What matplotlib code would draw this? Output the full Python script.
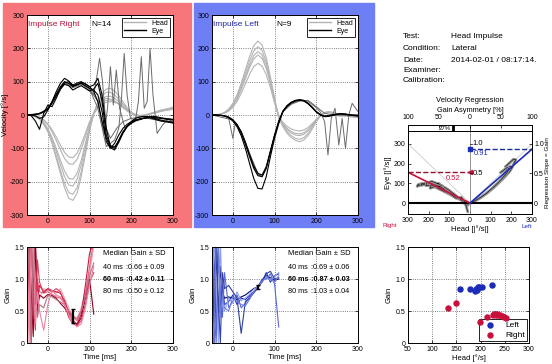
import matplotlib.pyplot as plt
import numpy as np
from matplotlib.patches import Rectangle
from matplotlib.lines import Line2D

plt.rcParams['font.family'] = ['Liberation Sans', 'DejaVu Sans']
plt.rcParams['font.size'] = 5.5
plt.rcParams['axes.linewidth'] = 0.7
plt.rcParams['axes.unicode_minus'] = False

##########################################################
# Velocity traces, sampled every 10 ms from -50 to 300 ms
t_vel = list(range(-50, 301, 10))

# Impulse right: head (gray) and eye (black) velocity [deg/s]
head_right = [
    [0,0,-4,-12,-28,-50,-85,-130,-175,-218,-250,-256,-235,-185,-118,-48,5,40,65,78,80,72,58,40,22,8,-2,-5,-3,2,6,10,14,16,18,20],
    [0,0,-5,-13,-27,-48,-80,-122,-165,-205,-233,-238,-218,-170,-108,-42,5,36,58,68,68,60,48,33,18,6,-3,-6,-4,0,5,9,13,16,18,20],
    [0,0,-3,-10,-22,-42,-70,-108,-148,-185,-210,-213,-193,-150,-95,-38,4,30,48,56,56,50,40,28,16,6,-2,-4,-2,1,5,8,12,15,17,19],
    [0,-1,-4,-11,-24,-42,-68,-100,-135,-168,-190,-193,-175,-136,-86,-33,5,28,44,50,48,42,33,22,12,4,-2,-4,-2,2,6,10,14,17,20,24],
    [0,0,-2,-7,-16,-30,-50,-76,-104,-130,-146,-148,-133,-103,-65,-24,5,24,38,44,45,41,34,25,15,6,0,-3,-2,1,4,7,10,13,15,17],
    [0,0,-2,-6,-14,-26,-44,-66,-90,-112,-126,-128,-115,-88,-55,-20,4,20,32,38,40,38,33,25,16,8,2,-1,0,3,6,9,12,14,16,18],
]
eye_right = [
    [0,0,2,5,10,20,38,62,85,100,95,85,92,95,88,80,75,60,10,-80,-100,-85,-60,-40,-28,-20,-15,-12,-10,-8,-6,-8,-10,-12,-14,-15],
    [0,0,1,4,9,18,35,58,80,96,100,90,96,100,92,85,90,110,60,-40,-95,-100,-75,-50,-34,-24,-16,-12,-10,-8,-10,-14,-18,-20,-22,-24],
    [0,0,-3,-10,-6,15,40,70,95,110,102,88,90,98,94,85,70,40,-20,-70,-98,-105,-82,-55,-35,-20,-10,-6,-4,-5,-8,-12,-15,-18,-20,-22],
    [0,-2,-18,-43,5,30,25,50,78,92,88,75,82,88,80,72,78,95,40,-60,-92,-96,-78,-52,-35,-25,-18,-14,-10,-6,-4,-5,-8,-10,-12,-14],
]
# eye traces with catch-up saccades (own time base)
sacc_right_t = [
    [-50,-20,0,20,40,60,80,100,110,118,124,131,140,150,165,180,200,230,260,300],
    [-50,-20,0,20,40,60,80,100,120,135,143,150,157,164,172,185,200,230,260,300],
    [-50,-20,0,20,40,60,80,100,120,140,160,170,176,183,190,198,210,217,224,231,238,245,252,262,275,290,300],
]
sacc_right_v = [
    [0,5,20,62,100,88,96,72,60,120,170,100,-40,-70,-40,-20,-10,-5,-10,-12],
    [0,4,18,55,95,82,92,80,40,-60,20,145,30,135,20,-40,-20,-8,-15,-20],
    [0,3,15,58,98,85,95,78,20,-95,-75,-40,40,185,60,-10,-15,40,175,20,40,200,60,-55,-30,-10,-25],
]

# Impulse left
head_left = [
    [0,0,3,8,18,35,60,95,135,175,208,222,210,172,115,50,-8,-35,-55,-68,-76,-80,-75,-62,-42,-20,-2,8,10,8,4,0,-3,-5,-6,-8],
    [0,0,2,7,16,32,55,88,125,162,192,205,194,158,105,45,-8,-32,-50,-62,-70,-73,-68,-56,-38,-18,-2,7,9,7,3,0,-3,-5,-6,-8],
    [0,0,2,6,14,28,50,80,115,150,178,190,180,148,100,44,-5,-28,-44,-54,-60,-62,-58,-48,-33,-16,-2,6,8,6,3,1,-1,-3,-4,-6],
    [0,0,2,6,14,27,48,76,108,142,168,180,170,140,94,40,-5,-26,-40,-50,-55,-57,-53,-44,-30,-15,-2,6,8,6,4,2,0,-2,-3,-5],
    [0,0,2,5,12,23,40,65,93,122,145,155,147,121,82,36,-3,-22,-34,-42,-46,-48,-45,-38,-26,-13,-2,5,7,6,4,3,2,0,-2,-3],
]
eye_left = [
    [0,0,-1,-3,-8,-18,-35,-62,-100,-145,-190,-220,-222,-185,-125,-70,-25,10,28,38,44,46,44,36,24,10,0,-5,-4,-1,2,3,2,0,-2,-3],
    [0,0,-1,-3,-7,-16,-30,-55,-88,-125,-160,-182,-185,-160,-110,-62,-20,10,26,36,42,44,42,34,22,9,0,-4,-3,0,2,3,2,0,-1,-2],
    [0,0,-1,-2,-6,-14,-28,-50,-82,-118,-152,-175,-180,-155,-108,-60,-18,12,28,38,43,45,43,35,23,10,1,-3,-2,1,3,4,3,1,-1,-2],
]
sacc_left_t = [
    [-50,-20,-10,-5,0,5,10,20,30,40,50,60,70,80,90,100,110,120,140,160,180,200,220,240,260,280,300],
    [-50,0,20,40,60,70,80,100,120,140,160,180,200,210,220,228,236,245,254,262,270,278,286,300],
]
sacc_left_v = [
    [0,-2,-10,-40,-70,-30,-30,-50,-80,-118,-155,-178,-185,-160,-110,-62,-20,10,32,42,44,25,5,0,-3,0,2],
    [0,-15,-50,-115,-175,-185,-160,-62,10,35,44,42,22,8,-20,-120,-10,20,-90,-10,-100,0,35,10],
]

# Gain traces [eye/head] over time
t_gain = [-50,-45,-40,-35,-30,-25,-20,-10,0,10,20,30,40,50,60,70,80,90,100,110]
gain_right = [
    [1.6,0.2,1.6,0.4,1.2,0.9,0.7,0.85,0.82,0.8,0.78,0.85,0.7,0.55,0.42,0.38,0.55,0.8,1.1,1.5],
    [0.0,1.6,0.3,1.6,0.6,1.0,0.8,0.78,0.8,0.76,0.72,0.7,0.62,0.5,0.4,0.35,0.5,0.75,1.2,1.6],
    [1.2,1.6,0.0,0.9,1.6,0.7,0.9,0.8,0.85,0.82,0.8,0.78,0.66,0.48,0.33,0.3,0.45,0.9,1.4,1.6],
    [0.5,1.6,0.8,0.1,1.6,0.5,0.75,0.7,0.76,0.74,0.7,0.62,0.55,0.45,0.36,0.28,0.4,0.7,1.0,0.45],
    [1.6,1.1,1.6,0.6,0.2,1.3,0.95,0.78,0.84,0.8,0.85,0.8,0.6,0.4,0.3,0.27,0.35,0.6,0.95,1.1],
    [0.8,1.6,0.0,1.6,0.9,0.4,0.6,0.55,0.75,0.72,0.68,0.64,0.6,0.5,0.42,0.38,0.5,0.72,1.05,1.25],
    [1.6,0.0,1.6,1.6,0.3,0.8,0.5,0.2,0.6,0.82,0.75,0.72,0.6,0.45,0.35,0.25,0.3,0.55,0.9,1.2],
]
gain_left = [
    [1.6,0.0,1.6,0.3,1.2,0.8,0.7,0.72,0.7,0.68,0.72,0.75,0.8,0.85,0.88,0.98,1.05,1.02,0.98,1.0],
    [0.0,1.6,0.2,1.6,0.5,0.9,0.6,0.65,0.75,0.6,0.7,0.68,0.74,0.8,0.87,0.95,1.1,0.95,1.05,1.08],
    [1.6,0.5,0.0,1.4,0.8,0.4,1.1,0.55,0.65,0.75,0.55,0.62,0.72,0.8,0.86,1.0,1.0,1.08,0.92,0.25],
    [0.3,1.6,0.9,0.0,1.6,0.6,0.5,0.7,0.62,0.8,0.66,0.7,0.76,0.84,0.88,0.95,1.04,0.98,1.05,1.1],
    [1.6,0.2,1.6,0.7,0.0,1.1,0.85,0.9,0.8,0.7,0.15,0.65,0.7,0.78,0.86,0.97,1.08,1.12,1.0,1.02],
    [0.7,0.0,1.6,1.6,0.4,0.75,0.55,0.5,0.72,0.65,0.6,0.58,0.68,0.8,0.88,0.96,1.02,1.0,0.95,1.05],
]
gain_ms = [40, 60, 80]
gain_right_med = [0.66, 0.42, 0.50]
gain_right_sd = [0.09, 0.11, 0.12]
gain_left_med = [0.69, 0.87, 1.03]
gain_left_sd = [0.06, 0.03, 0.04]

# Velocity regression
slope_right = 0.52
slope_left = 0.91
asymmetry = 27

# Gain vs peak head velocity
left_head = [158, 178, 188, 190, 192, 194, 196, 202, 224]
left_gain = [0.84, 0.85, 0.82, 0.84, 0.83, 0.88, 0.87, 0.87, 0.90]
right_head = [132, 149, 198, 213, 225, 228, 230, 231, 233, 236, 240, 244, 248, 252]
right_gain = [0.55, 0.62, 0.33, 0.40, 0.44, 0.45, 0.46, 0.44, 0.45, 0.44, 0.43, 0.42, 0.41, 0.39]

info_keys = ['Test:', 'Condition:', 'Date:', 'Examiner:', 'Calibration:']
info_vals = ['Head Impulse', 'Lateral', '2014-02-01 / 08:17:14.', '', '']
info_y = [36, 48, 60, 71, 81]
##########################################################

RED = '#c8103c'
BLUE = '#1a2cb8'
W, H = 552, 364


def px(x0, y0, x1, y1):
    # pixel box (top-left origin) -> figure rect
    return [x0 / W, 1 - y1 / H, (x1 - x0) / W, (y1 - y0) / H]


def matlab_style(ax):
    ax.tick_params(direction='in', length=2, width=0.5, top=True, right=True,
                   labelsize=5, pad=2)
    ax.grid(True, linestyle=':', color='0.35', linewidth=0.6)


fig = plt.figure(figsize=(W / 100, H / 100), dpi=100)
fig.add_artist(Rectangle((3 / W, 1 - 227 / H), 188 / W, 224 / H,
                         transform=fig.transFigure, color='#f7767c', zorder=0))
fig.add_artist(Rectangle((194 / W, 1 - 227 / H), 180 / W, 224 / H,
                         transform=fig.transFigure, color='#6e7ef4', zorder=0))


# Velocity panels
def velocity_panel(rect, heads, eyes, s_t, s_v, title, n, tcol):
    ax = fig.add_axes(px(*rect))
    for v in heads:
        ax.plot(t_vel, v, color='#b4b4b4', lw=0.8)
    for t, v in zip(s_t, s_v):
        ax.plot(t, v, color='#6a6a6a', lw=0.7)
    for v in eyes:
        ax.plot(t_vel, v, color='black', lw=0.8)
    ax.set_xlim(-50, 300)
    ax.set_ylim(-300, 300)
    ax.set_xticks([0, 100, 200, 300])
    ax.set_yticks(range(-300, 301, 100))
    matlab_style(ax)
    ax.text(0.01, 0.95, title, transform=ax.transAxes, color=tcol,
            fontsize=6, va='center')
    ax.text(0.44, 0.95, 'N=%d' % n, transform=ax.transAxes, fontsize=6,
            va='center')
    hl = [Line2D([], [], color='#b4b4b4', lw=1), Line2D([], [], color='black', lw=1)]
    leg = ax.legend(hl, ['Head', 'Eye'], loc='upper right', fontsize=5,
                    fancybox=False, edgecolor='black', framealpha=1,
                    borderpad=0.3, labelspacing=0.1, handlelength=3.2,
                    borderaxespad=0.4)
    leg.get_frame().set_linewidth(0.6)
    return ax


ax = velocity_panel((27, 15, 173, 215), head_right, eye_right, sacc_right_t,
                    sacc_right_v, 'Impulse Right', 14, '#c0103a')
ax.set_ylabel('Velocity [°/s]', labelpad=1)
velocity_panel((212, 15, 358, 215), head_left, eye_left, sacc_left_t,
               sacc_left_v, 'Impulse Left', 9, '#2028a0')


# Gain panels
def gain_panel(rect, traces, colors, med, sd):
    ax = fig.add_axes(px(*rect))
    for g, c in zip(traces, colors):
        ax.plot(t_gain, g, color=c, lw=0.8)
    ax.errorbar([gain_ms[1]], [med[1]], yerr=[sd[1]], color='black', lw=1.6,
                capsize=1.5, capthick=1)
    ax.set_xlim(-50, 300)
    ax.set_ylim(0, 1.5)
    ax.set_xticks([0, 100, 200, 300])
    ax.set_yticks([0, 0.5, 1.0, 1.5])
    ax.set_yticklabels(['0', '0.5', '1.0', '1.5'])
    matlab_style(ax)
    ax.set_xlabel('Time [ms]', labelpad=1)
    ax.set_ylabel('Gain', labelpad=2)
    ax.text(0.52, 0.93, 'Median Gain ± SD', transform=ax.transAxes, va='center')
    for i, (ms, m, s) in enumerate(zip(gain_ms, med, sd)):
        w = 'bold' if ms == 60 else 'normal'
        y = 0.79 - i * 0.125
        ax.text(0.52, y, '%d ms' % ms, transform=ax.transAxes, va='center',
                weight=w, fontsize=5.2)
        ax.text(0.675, y, ':%.2f ± %.2f' % (m, s), transform=ax.transAxes,
                va='center', weight=w, fontsize=5.2)
    return ax


gain_panel((27, 247, 173, 343), gain_right,
           ['#f4a0b4', '#e8607c', '#c81840', '#900020', '#d84060', '#b07080', '#f080a0'],
           gain_right_med, gain_right_sd)
gain_panel((212, 247, 358, 343), gain_left,
           ['#000070', '#2030c0', '#5868e0', '#90a0f0', '#3040a0', '#7080d0'],
           gain_left_med, gain_left_sd)

# Info text
for k, v, y in zip(info_keys, info_vals, info_y):
    fig.text(403 / W, 1 - y / H, k, fontsize=6, va='center')
    fig.text(451 / W, 1 - y / H, v, fontsize=6, va='center')

# Velocity regression
axr = fig.add_axes(px(408, 131, 532, 214))
axr.set_xlim(-300, 300)
axr.set_ylim(-55, 365)
axr.plot([-300, 0], [300, 0], color='0.8', lw=0.6)
axr.plot([0, 300], [0, 300], color='0.8', lw=0.6)
axr.axvline(0, color='0.5', lw=0.6)
for h, e in zip(head_right, eye_right):
    axr.plot(h[3:14], e[3:14], color='0.6', lw=2)
    axr.plot(h[3:14], e[3:14], color='black', lw=0.4)
for h, e in zip(head_left, eye_left):
    axr.plot(h[3:14], [-x for x in e[3:14]], color='0.6', lw=2)
    axr.plot(h[3:14], [-x for x in e[3:14]], color='black', lw=0.4)
axr.axhline(0, color='black', lw=1.5)
axr.plot([-300, 0], [slope_right * 300, 0], color=RED, lw=1.2)
axr.plot([0, 300], [0, slope_left * 300], color=BLUE, lw=1.2)
axr.plot([-300, 0], [slope_right * 300] * 2, '--', color='#9a1030', lw=1)
axr.plot([0, 300], [slope_left * 300] * 2, '--', color='#1a2ca0', lw=1)
axr.plot(0, slope_right * 300, marker='<', color=RED, ms=3)
axr.plot(0, slope_left * 300, marker='s', color=BLUE, ms=2.5)
axr.text(-80, slope_right * 300 - 30, '%.2f' % slope_right, color=RED,
         ha='center', va='center', fontsize=5.5)
axr.text(55, slope_left * 300 - 22, '%.2f' % slope_left, color=BLUE,
         ha='center', va='center', fontsize=5.5)
for g in [0.5, 1.0]:
    axr.plot([0, 8], [g * 300, g * 300], color='black', lw=0.5)
    axr.text(14, g * 300, '%.1f' % g, va='center', fontsize=5.5)
axr.set_xticks(range(-300, 301, 100))
axr.set_xticklabels([str(abs(v)) for v in range(-300, 301, 100)])
axr.set_yticks([0, 100, 200, 300])
axr.tick_params(direction='in', length=2, width=0.5, top=False, labelsize=5, pad=2)
axr.set_xlabel('Head [|°/s|]', labelpad=1)
axr.set_ylabel('Eye [|°/s|]', labelpad=1)
axg = axr.twinx()
axg.set_ylim(-55 / 300, 365 / 300)
axg.set_yticks([0, 0.5, 1.0])
axg.set_yticklabels(['0', '0.5', '1.0'])
axg.tick_params(direction='in', length=2, width=0.5, labelsize=5, pad=1.5)
axg.set_ylabel('Regression Slope = Gain', fontsize=4.6, labelpad=1)
fig.text(390 / W, 1 - 226 / H, 'Right', color=RED, fontsize=4.5, va='center', ha='center')
fig.text(527 / W, 1 - 226 / H, 'Left', color=BLUE, fontsize=4.5, va='center', ha='center')

# asymmetry strip
axa = fig.add_axes(px(408, 125, 532, 131))
axa.set_xlim(-100, 100)
axa.set_ylim(0, 1)
axa.set_yticks([])
axa.xaxis.tick_top()
axa.xaxis.set_label_position('top')
axa.set_xticks([-100, -50, 0, 50, 100])
axa.set_xticklabels(['100', '50', '0', '50', '100'])
axa.tick_params(direction='in', length=2, width=0.5, labelsize=5, pad=3)
axa.axvline(-asymmetry, color='black', lw=2)
axa.axvline(0, color='black', lw=0.5)
axa.text(-asymmetry - 4, 0.45, '%d%%' % asymmetry, ha='right', va='center', fontsize=4.3)
axa.set_xlabel('Gain Asymmetry [%]', fontsize=5.3, labelpad=1)
fig.text(470 / W, 1 - 100 / H, 'Velocity Regression', fontsize=5.5, ha='center', va='center')

# Gain vs head velocity
axs = fig.add_axes(px(408, 247, 529, 343))
axs.scatter(left_head, left_gain, s=13, color=BLUE, label='Left', zorder=3)
axs.scatter(right_head, right_gain, s=13, color=RED, label='Right', zorder=3)
axs.set_xlim(50, 300)
axs.set_ylim(0, 1.5)
axs.set_xticks(range(50, 301, 50))
axs.set_yticks([0, 0.5, 1.0, 1.5])
axs.set_yticklabels(['0', '0.5', '1.0', '1.5'])
matlab_style(axs)
axs.set_xlabel('Head [°/s]', labelpad=1)
axs.set_ylabel('Gain', labelpad=2)
leg = axs.legend(loc='lower right', fontsize=6, fancybox=False, edgecolor='black',
                 framealpha=1, borderpad=0.3, labelspacing=0.2, handletextpad=0.8,
                 borderaxespad=0.2)
leg.get_frame().set_linewidth(0.6)
leg.set_zorder(2)

fig.savefig('out.png', dpi=100)
